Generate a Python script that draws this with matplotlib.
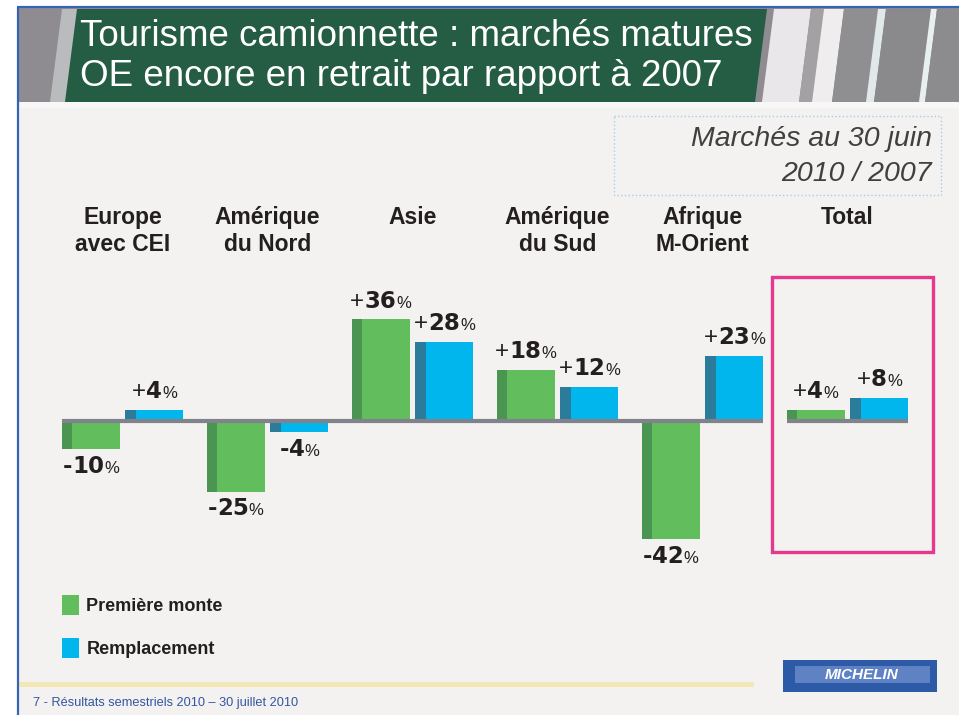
import matplotlib
matplotlib.use("Agg")
import matplotlib.pyplot as plt
import matplotlib.transforms as mtransforms
from matplotlib.patches import Rectangle, Polygon, Patch
from matplotlib.offsetbox import TextArea, HPacker, AnnotationBbox
import numpy as np

# data
regions = ["Europe\navec CEI", "Amérique\ndu Nord", "Asie", "Amérique\ndu Sud",
           "Afrique\nM-Orient", "Total"]
premiere_monte = [-10, -25, 36, 18, -42, 4]
remplacement = [4, -4, 28, 12, 23, 8]
series_names = ["Première monte", "Remplacement"]
title_lines = ["Tourisme camionnette : marchés matures",
               "OE encore en retrait par rapport à 2007"]
subtitle_lines = ["Marchés au 30 juin", "2010 / 2007"]
footer = "7 - Résultats semestriels 2010 – 30 juillet 2010"

W, H = 959, 715
SANS = ["Liberation Sans", "DejaVu Sans"]
green, green_dk = "#62bd5c", "#4a9551"
blue, blue_dk = "#00b6ec", "#2b7b9a"
txt = "#231f20"

fig = plt.figure(figsize=(W / 100, H / 100), dpi=100, facecolor="white")

# decoration layer, pixel units with origin top-left
bg = fig.add_axes([0, 0, 1, 1])
bg.set_xlim(0, W)
bg.set_ylim(H, 0)
bg.axis("off")

bg.add_patch(Rectangle((19, 8), W - 19, H - 8, color="#f3f2f0", lw=0))
# header band
bg.add_patch(Rectangle((19, 8), W - 19, 95, color="#8e8c90", lw=0))
bg.add_patch(Polygon([(62, 9), (80, 9), (68, 102), (50, 102)], color="#b9bbbd", lw=0))
stripes = [(768, 805, "#e9e7e9"), (805, 818, "#a3a1a4"), (818, 838, "#efeded"),
           (838, 872, "#8f8e91"), (872, 880, "#e1e8ea"), (880, 925, "#8a898c"),
           (925, 931, "#e8efef"), (931, 970, "#8c8b8e")]
for a, b, c in stripes:
    bg.add_patch(Polygon([(a + 6, 9), (b + 6, 9), (b - 6, 102), (a - 6, 102)], color=c, lw=0))
bg.add_patch(Polygon([(77, 9), (767, 9), (755, 102), (65, 102)], color="#245c44", lw=0))
bg.add_patch(Rectangle((19, 102), W - 19, 6, color="#f6f7f6", lw=0))
for i, line in enumerate(title_lines):
    bg.text(80, 36 + 41 * i, line, color="white", fontsize=26.5, family=SANS,
            ha="left", va="center")

# slide frame
bg.plot([17, W], [7, 7], color="#3563b5", lw=1.6, solid_capstyle="butt")
bg.plot([18, 18], [7, H], color="#3563b5", lw=1.6, solid_capstyle="butt")

# subtitle box
bg.add_patch(Rectangle((614, 116), 327, 79, fill=False, ec="#a9cce6", ls=":", lw=1))
for i, line in enumerate(subtitle_lines):
    bg.text(932, 139 + 35 * i, line, color="#404040", fontsize=20.5, family=SANS,
            style="italic", ha="right", va="center")

# highlight around total
bg.add_patch(Rectangle((772, 277), 161, 275, fill=False, ec="#e5398f", lw=2.4))

# footer
bg.add_patch(Rectangle((19, 682), 735, 5, color="#f2e7b5", lw=0))
bg.text(33, 703, footer, color="#3355a0", fontsize=9.2, family=SANS, ha="left", va="center")
bg.add_patch(Rectangle((783, 660), 154, 32, color="#2d5aa6", lw=0))
bg.add_patch(Rectangle((795, 666), 135, 17, color="#5e82c4", lw=0))
bg.text(862, 675, "MICHELIN", color="white", fontsize=11, family=SANS,
        weight="bold", style="italic", ha="center", va="center")

# chart axes: zero at y=421 px, 2.82 px per percent
zero_px, scale = 421, 2.82
ymin, ymax = -50, 45
top_px = zero_px - ymax * scale
bot_px = zero_px - ymin * scale
ax = fig.add_axes([50 / W, 1 - bot_px / H, 870 / W, (bot_px - top_px) / H])
ax.set_facecolor("none")
ax.set_xlim(-0.5, 5.5)
ax.set_ylim(ymin, ymax)
ax.axis("off")

x = np.arange(len(regions))
off, width, strip = 0.22, 0.4, 0.07
ax.bar(x - off, premiere_monte, width, color=green, lw=0, zorder=2)
ax.bar(x - off - width / 2, premiere_monte, strip, align="edge", color=green_dk, lw=0, zorder=2)
ax.bar(x + off, remplacement, width, color=blue, lw=0, zorder=2)
ax.bar(x + off - width / 2, remplacement, strip, align="edge", color=blue_dk, lw=0, zorder=2)

ax.hlines(0, x[0] - off - width / 2, x[-2] + off + width / 2, color="#80838c", lw=3, zorder=3)
ax.hlines(0, x[-1] - off - width / 2, x[-1] + off + width / 2, color="#80838c", lw=3, zorder=3)


def value_label(xpos, v):
    if v > 0:
        sign = TextArea("+", textprops=dict(fontsize=17.5, family=SANS, color=txt))
    else:
        sign = TextArea("-", textprops=dict(fontsize=16.5, family="DejaVu Sans",
                                            weight="bold", color=txt))
    num = TextArea(str(abs(v)), textprops=dict(fontsize=16.5, family="DejaVu Sans",
                                               weight="bold", color=txt))
    pct = TextArea("%", textprops=dict(fontsize=12, family=SANS, color=txt))
    box = HPacker(children=[sign, num, pct], align="baseline", pad=0, sep=0)
    ab = AnnotationBbox(box, (xpos, v), xybox=(0, 5 if v > 0 else -4),
                        xycoords="data", boxcoords="offset points",
                        box_alignment=(0.5, 0 if v > 0 else 1), frameon=False, pad=0)
    ax.add_artist(ab)


for i in x:
    value_label(i - off, premiere_monte[i])
    value_label(i + off, remplacement[i])

# category headers (x from data, y in pixels)
trans = mtransforms.blended_transform_factory(ax.transData, bg.transData)
for i, name in enumerate(regions):
    ax.text(i, 206, name, transform=trans, ha="center", va="top", fontsize=16.5,
            family=SANS, weight="bold", color=txt, linespacing=1.2)

handles = [Patch(facecolor=green, lw=0), Patch(facecolor=blue, lw=0)]
leg = ax.legend(handles, series_names, loc="upper left",
                bbox_to_anchor=(62 / W, 1 - 595 / H), bbox_transform=fig.transFigure,
                frameon=False, prop=dict(family=SANS, weight="bold", size=13),
                handlelength=0.95, handleheight=1.3, handletextpad=0.4,
                labelspacing=1.3, borderpad=0, borderaxespad=0)
for t in leg.get_texts():
    t.set_color(txt)

fig.savefig("out.png", dpi=100, facecolor="white")
